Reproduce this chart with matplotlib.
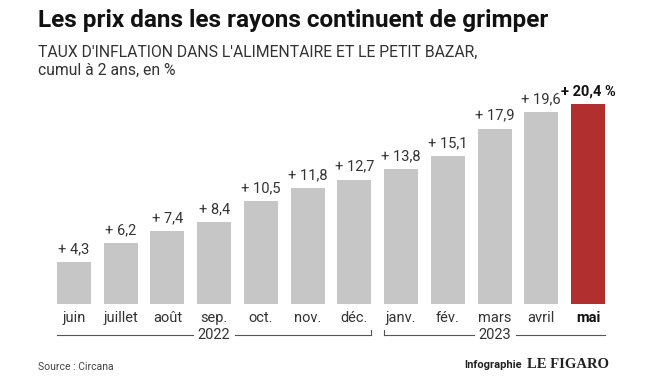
import matplotlib.pyplot as plt

# Data
months = ['juin', 'juillet', 'août', 'sep.', 'oct.', 'nov.', 'déc.',
          'janv.', 'fév.', 'mars', 'avril', 'mai']
values = [4.3, 6.2, 7.4, 8.4, 10.5, 11.8, 12.7, 13.8, 15.1, 17.9, 19.6, 20.4]
years = ['2022', '2023']

plt.rcParams['font.family'] = ['Roboto', 'DejaVu Sans']

W, H = 660, 386
fig = plt.figure(figsize=(W / 100, H / 100), dpi=100)

# axes placed in pixels: x centers 74..588, baseline at y=304
left = 50.6 / W
width = 560.8 / W
ymax = 22
px_per_unit = 9.8
bottom = (H - 304) / H
height = ymax * px_per_unit / H
ax = fig.add_axes([left, bottom, width, height])

x = list(range(len(months)))
colors = ['#c6c6c6'] * (len(months) - 1) + ['#b22f2f']
ax.bar(x, values, width=0.73, color=colors)
ax.set_xlim(-0.5, len(months) - 0.5)
ax.set_ylim(0, ymax)
ax.axis('off')

for i, v in enumerate(values):
    label = '+ ' + f'{v:.1f}'.replace('.', ',')
    if i == len(values) - 1:
        ax.text(i, v + 0.6, label + ' %', ha='center', va='bottom',
                fontsize=10.5, fontweight='bold', color='#111111')
    else:
        ax.text(i, v + 0.6, label, ha='center', va='bottom',
                fontsize=10.5, color='#333333')

# month labels
for i, m in enumerate(months):
    last = i == len(months) - 1
    ax.text(i, -1.45, m, ha='center', va='center', fontsize=10.5,
            fontweight='bold' if last else 'normal',
            color='#111111' if last else '#333333', clip_on=False)

# year brackets
yline = -3.2
line_kw = dict(color='#555555', lw=0.8, clip_on=False)
gap = 0.45
# 2022: juin..déc
x0, x1 = -0.5 + 0.135, 6 + 0.365
xm = (x0 + x1) / 2
ax.plot([x0, xm - gap], [yline, yline], **line_kw)
ax.plot([xm + gap, x1], [yline, yline], **line_kw)
ax.plot([x1, x1], [yline, yline + 0.5], **line_kw)
ax.text(xm, yline, years[0], ha='center', va='center',
        fontsize=10.5, color='#333333', clip_on=False)
# 2023: janv..mai
x0, x1 = 7 - 0.365, 11 + 0.365
xm = (x0 + x1) / 2
ax.plot([x0, x0], [yline, yline + 0.5], **line_kw)
ax.plot([x0, xm - gap], [yline, yline], **line_kw)
ax.plot([xm + gap, x1], [yline, yline], **line_kw)
ax.text(xm, yline, years[1], ha='center', va='center',
        fontsize=10.5, color='#333333', clip_on=False)

# titles
fig.text(38 / W, 1 - 20 / H, 'Les prix dans les rayons continuent de grimper',
         fontsize=17.5, fontweight='bold', color='#111111', va='center', ha='left')
fig.text(38 / W, 1 - 52 / H, "TAUX D'INFLATION DANS L'ALIMENTAIRE ET LE PETIT BAZAR,",
         fontsize=11.3, color='#333333', va='center', ha='left')
fig.text(38 / W, 1 - 70 / H, 'cumul à 2 ans, en %',
         fontsize=11.3, color='#333333', va='center', ha='left')

# footer
fig.text(38 / W, 1 - 367 / H, 'Source : Circana', fontsize=7.5,
         color='#444444', va='center', ha='left')
fig.text(522 / W, 1 - 365 / H, 'Infographie', fontsize=8, fontweight='bold',
         color='#222222', va='center', ha='right')
fig.text(527 / W, 1 - 365 / H, 'LE FIGARO', fontsize=10.5, fontweight='bold',
         family=['Liberation Serif', 'DejaVu Serif'], color='#222222',
         va='center', ha='left')

fig.savefig('out.png', dpi=100, facecolor='white')
